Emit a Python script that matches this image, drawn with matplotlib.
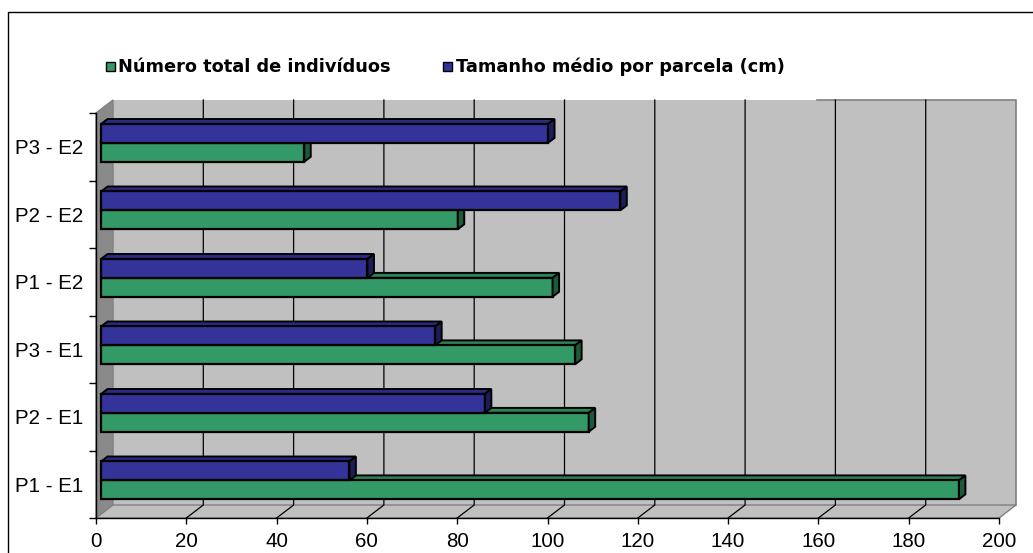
import matplotlib
matplotlib.use("Agg")
import matplotlib.pyplot as plt
from matplotlib.patches import Polygon, Rectangle
from matplotlib.lines import Line2D

# ---- data -------------------------------------------------------------
categories = ["P1 - E1", "P2 - E1", "P3 - E1", "P1 - E2", "P2 - E2", "P3 - E2"]
total_individuos = [190, 108, 105, 100, 79, 45]
tamanho_medio = [55, 85, 74, 59, 115, 99]
series_names = ["Número total de indivíduos", "Tamanho médio por parcela (cm)"]
x_ticks = list(range(0, 201, 20))

# ---- style ------------------------------------------------------------
front_colors = ["#339966", "#333399"]
top_colors = ["#2b8455", "#2b2b85"]
side_colors = ["#1d5a3b", "#1d1d5a"]
wall_color = "#c0c0c0"
side_wall_color = "#8a8a8a"
edge_gray = "#808080"

W, H, DPI = 1033, 553, 100
fig = plt.figure(figsize=(W / DPI, H / DPI), dpi=DPI)
fig.patch.set_facecolor("white")

# front plane of the 3-D plot, in pixels
left_px, right_px, top_px, bottom_px = 96, 999, 113, 518
ax = fig.add_axes([left_px / W, 1 - bottom_px / H,
                   (right_px - left_px) / W, (bottom_px - top_px) / H])
ax.set_facecolor("none")
xmin, xmax = 0, 200
ymin, ymax = 0, len(categories)
ax.set_xlim(xmin, xmax)
ax.set_ylim(ymin, ymax)

# depth of the box, converted from pixels to data units
depth_x_px, depth_y_px = 17, 13
ux = (xmax - xmin) / (right_px - left_px)
uy = (ymax - ymin) / (bottom_px - top_px)
DX, DY = depth_x_px * ux, depth_y_px * uy

# walls and floor
back = Polygon([(xmin + DX, ymin + DY), (xmax + DX, ymin + DY),
                (xmax + DX, ymax + DY), (xmin + DX, ymax + DY)],
               closed=True, facecolor=wall_color, edgecolor="none",
               zorder=0.5, clip_on=False)
ax.add_patch(back)
ax.plot([xmax + DX, xmax + DX, 0.78 * xmax + DX], [ymin + DY, ymax + DY, ymax + DY],
        color=edge_gray, lw=1.2, zorder=0.7, clip_on=False)
side = Polygon([(xmin, ymin), (xmin + DX, ymin + DY), (xmin + DX, ymax + DY), (xmin, ymax)],
               closed=True, facecolor=side_wall_color, edgecolor=edge_gray, lw=1.0,
               zorder=0.6, clip_on=False)
ax.add_patch(side)
floor = Polygon([(xmin, ymin), (xmax, ymin), (xmax + DX, ymin + DY), (xmin + DX, ymin + DY)],
                closed=True, facecolor=wall_color, edgecolor=edge_gray, lw=1.0,
                zorder=0.6, clip_on=False)
ax.add_patch(floor)

# gridlines: up the back wall and across the floor
for v in x_ticks[1:-1]:
    ax.plot([v, v + DX, v + DX], [ymin, ymin + DY, ymax + DY],
            color="black", lw=0.9, zorder=0.8, clip_on=False)

# bars
f1, f2 = 0.30, 0.68          # front / back depth fraction of the bars
bar_h = 0.28
for i in range(len(categories)):
    for s, vals in enumerate([total_individuos, tamanho_medio]):
        v = vals[i]
        y0 = i + 0.5 - bar_h + s * bar_h
        y1 = y0 + bar_h
        z = 3 + i * 0.01 + s * 0.005
        ax.barh(y0 + bar_h / 2 + f1 * DY, v, height=bar_h, left=xmin + f1 * DX,
                color=front_colors[s], edgecolor="black", linewidth=1.6,
                zorder=z, clip_on=False)
        top = Polygon([(xmin + f1 * DX, y1 + f1 * DY), (v + f1 * DX, y1 + f1 * DY),
                       (v + f2 * DX, y1 + f2 * DY), (xmin + f2 * DX, y1 + f2 * DY)],
                      closed=True, facecolor=top_colors[s], edgecolor="black",
                      lw=1.4, zorder=z - 0.002, clip_on=False)
        ax.add_patch(top)
        rside = Polygon([(v + f1 * DX, y0 + f1 * DY), (v + f2 * DX, y0 + f2 * DY),
                         (v + f2 * DX, y1 + f2 * DY), (v + f1 * DX, y1 + f1 * DY)],
                        closed=True, facecolor=side_colors[s], edgecolor="black",
                        lw=1.4, zorder=z + 0.001, clip_on=False)
        ax.add_patch(rside)

# axes, ticks and labels
for sp in ["top", "right"]:
    ax.spines[sp].set_visible(False)
for sp in ["left", "bottom"]:
    ax.spines[sp].set_color("black")
    ax.spines[sp].set_linewidth(1.0)
    ax.spines[sp].set_zorder(5)

tick_font = dict(family=["Liberation Sans", "DejaVu Sans"], size=14.8)
ax.set_xticks(x_ticks)
ax.set_xticklabels([str(t) for t in x_ticks], fontdict=tick_font)
ax.tick_params(axis="x", direction="out", length=4, width=1, pad=6, colors="black")
ax.set_yticks(range(0, len(categories) + 1))
ax.set_yticklabels([])
ax.tick_params(axis="y", which="major", direction="out", length=5, width=1)
ax.set_yticks([i + 0.5 for i in range(len(categories))], minor=True)
ax.set_yticklabels(categories, minor=True, fontdict=tick_font)
ax.tick_params(axis="y", which="minor", length=0, pad=9)

# legend
leg_font = dict(family=["DejaVu Sans"], weight="bold", size=12.8)
leg_items = [(106.0, 117.5), (443.0, 456.0)]
sq = 9.0
yc = 66.8
for (sx, tx), name, col in zip(leg_items, series_names, front_colors):
    fig.patches.append(Rectangle((sx / W, 1 - (yc + sq / 2) / H), sq / W, sq / H,
                                 transform=fig.transFigure, facecolor=col,
                                 edgecolor="black", lw=1.0))
    fig.text(tx / W, 1 - yc / H, name, ha="left", va="center", fontdict=leg_font)

# chart area border (left and top edges)
fig.add_artist(Line2D([8 / W, 8 / W, 1.0], [0.0, 1 - 12 / H, 1 - 12 / H],
                      transform=fig.transFigure, color="black", lw=1.0))

fig.savefig("out.png", dpi=DPI, facecolor="white")
